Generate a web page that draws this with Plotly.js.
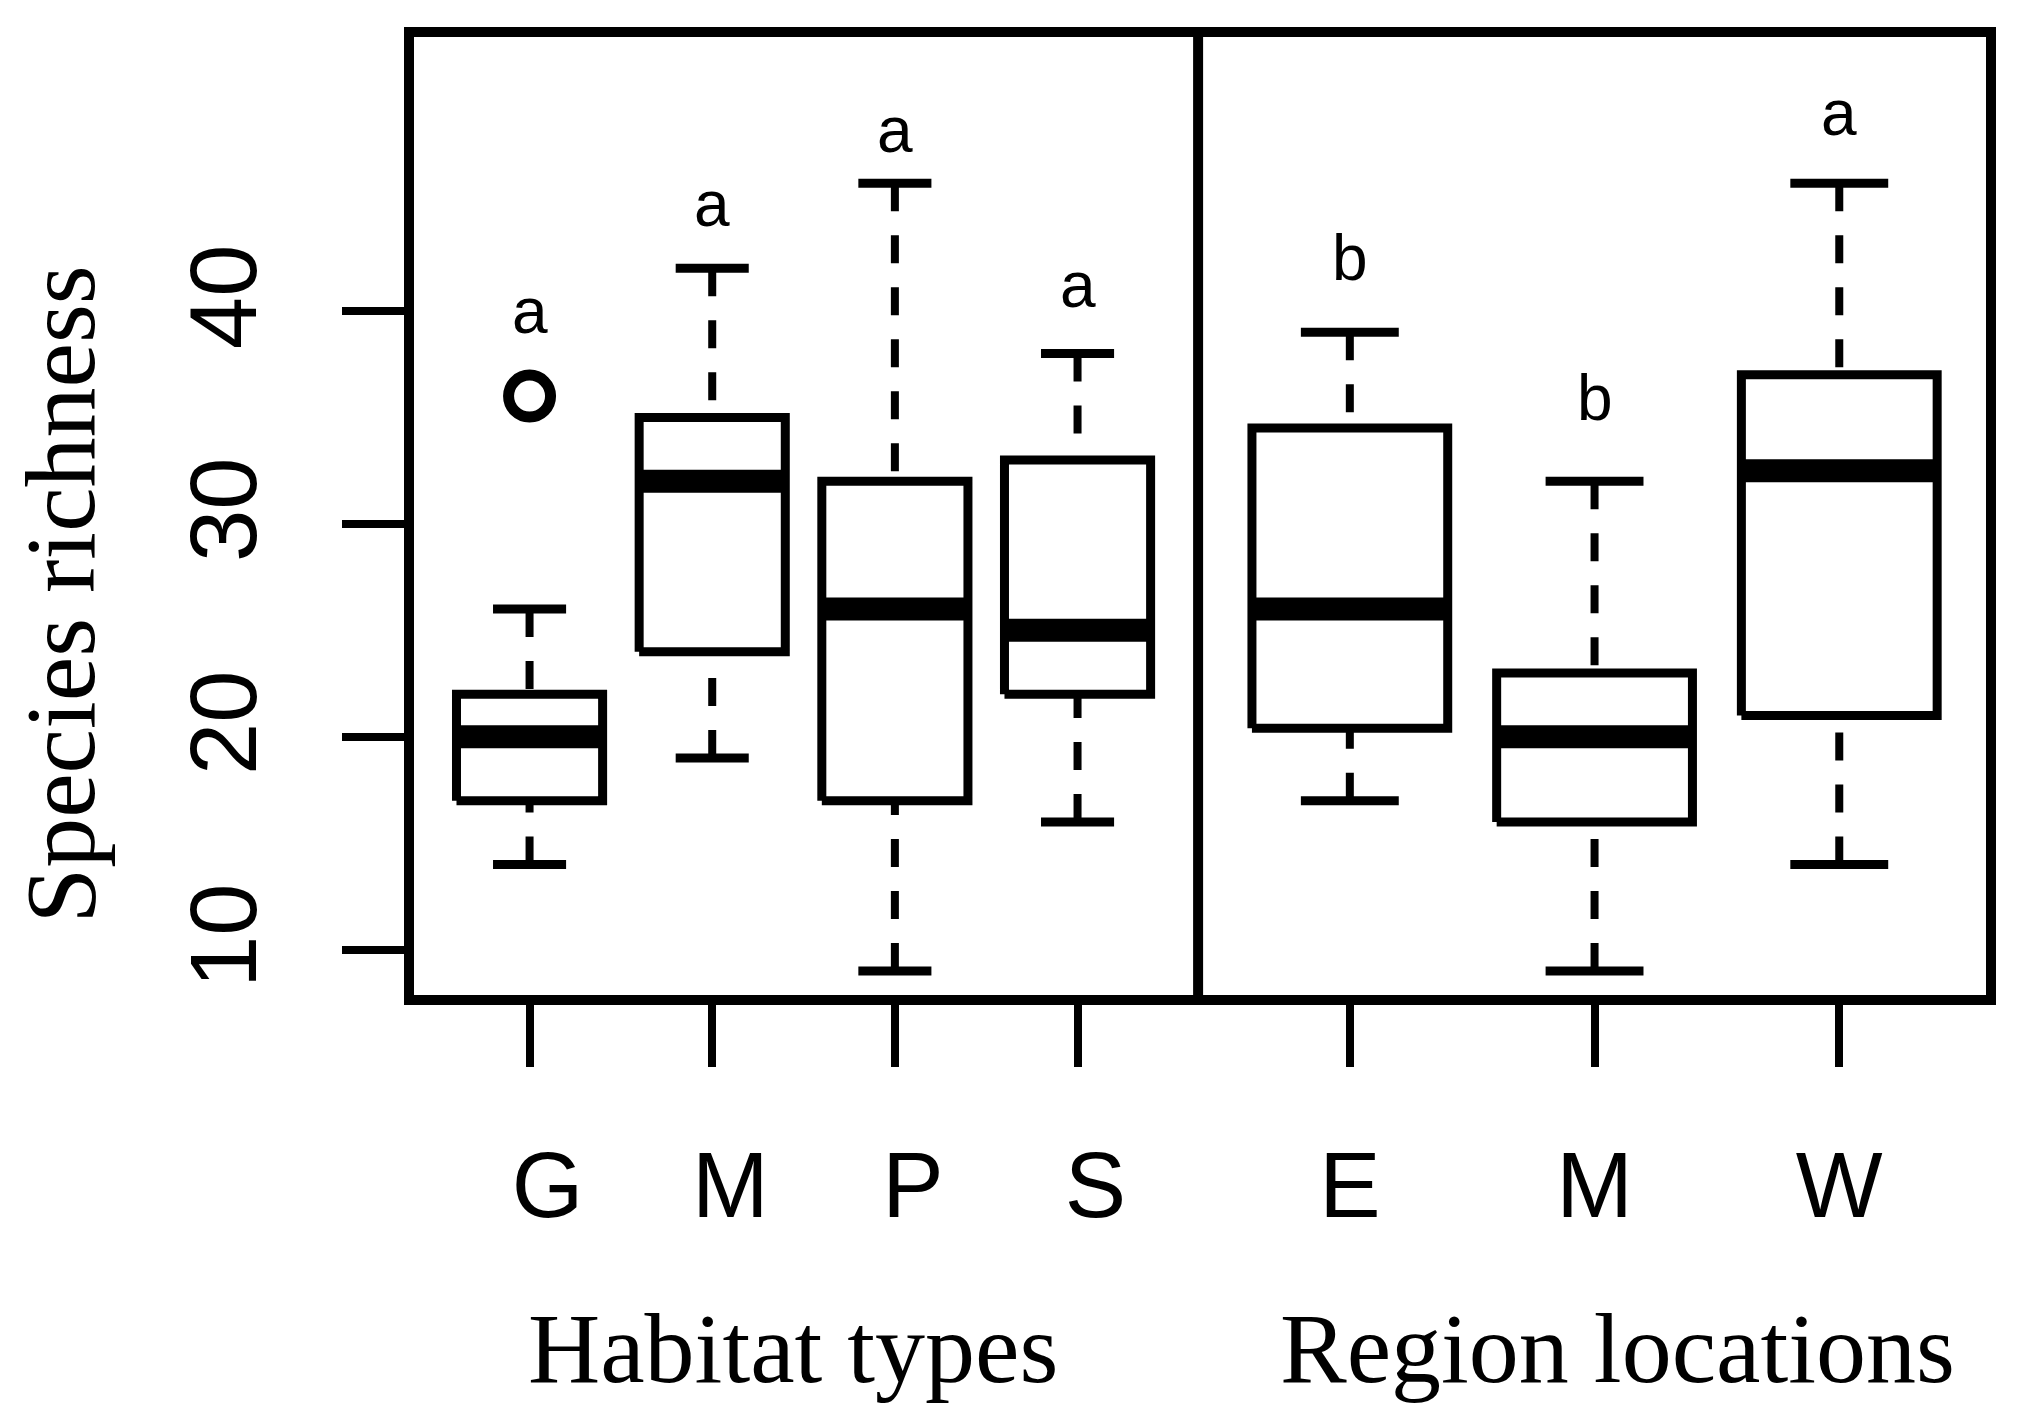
<!DOCTYPE html>
<html>
<head>
<meta charset="utf-8">
<script src="https://cdn.plot.ly/plotly-3.0.1.min.js"></script>
<style>
  body { margin: 0; background: #fff; }
  #myPlot { width: 2018px; height: 1423px; }
</style>
</head>
<body>
<div id="myPlot"></div>
<script>
// habitat panel (left)
var habitatCats = ['G', 'M', 'P', 'S'];
var habitatLow = [14, 19, 9, 16];
var habitatQ1 = [17, 24, 17, 22];
var habitatMed = [20, 32, 26, 25];
var habitatQ3 = [22, 35, 32, 33];
var habitatHigh = [26, 42, 46, 38];
var habitatOutX = ['G'];
var habitatOutY = [36];
var habitatLetters = ['a', 'a', 'a', 'a'];
var habitatLetterY = [40, 45, 48.5, 41.2];

// region panel (right)
var regionCats = ['E', 'M', 'W'];
var regionLow = [17, 9, 14];
var regionQ1 = [20.4, 16, 21];
var regionMed = [26, 20, 32.5];
var regionQ3 = [34.5, 23, 37];
var regionHigh = [39, 32, 46];
var regionLetters = ['b', 'b', 'a'];
var regionLetterY = [42.5, 35.9, 49.3];

var yTicks = [10, 20, 30, 40];

var BOX_HALF = 0.4, CAP_HALF = 0.2;

function panelTraces(cats, low, q1, med, q3, high, xa){
	var bx = [], by = [], mx = [], my = [], wx = [], wy = [], sx = [], sy = [];
	cats.forEach(function(c, i){
		var p = i + 1;
		bx.push(p - BOX_HALF, p + BOX_HALF, p + BOX_HALF, p - BOX_HALF, p - BOX_HALF, null);
		by.push(q1[i], q1[i], q3[i], q3[i], q1[i], null);
		mx.push(p - BOX_HALF, p + BOX_HALF, null);
		my.push(med[i], med[i], null);
		wx.push(p, p, null, p, p, null);
		wy.push(high[i], q3[i], null, low[i], q1[i], null);
		sx.push(p - CAP_HALF, p + CAP_HALF, null, p - CAP_HALF, p + CAP_HALF, null);
		sy.push(high[i], high[i], null, low[i], low[i], null);
	});
	var base = {type: 'scatter', mode: 'lines', xaxis: xa, yaxis: 'y', hoverinfo: 'skip', showlegend: false};
	return [
		Object.assign({}, base, {x: wx, y: wy, line: {color: '#000', width: 8, dash: '28px,24px'}}),
		Object.assign({}, base, {x: sx, y: sy, line: {color: '#000', width: 9}}),
		Object.assign({}, base, {x: bx, y: by, line: {color: '#000', width: 9}}),
		Object.assign({}, base, {x: mx, y: my, line: {color: '#000', width: 23}})
	];
}

var data = [].concat(
	panelTraces(habitatCats, habitatLow, habitatQ1, habitatMed, habitatQ3, habitatHigh, 'x'),
	panelTraces(regionCats, regionLow, regionQ1, regionMed, regionQ3, regionHigh, 'x2')
);
// outlier
data.push({
	type: 'scatter', mode: 'markers', xaxis: 'x', yaxis: 'y', showlegend: false, hoverinfo: 'skip',
	x: habitatOutX.map(function(c){ return habitatCats.indexOf(c) + 1; }),
	y: habitatOutY,
	marker: {symbol: 'circle-open', size: 42, color: '#000', line: {width: 11, color: '#000'}}
});

var annotations = [];
var letterFont = {family: 'Liberation Sans', size: 64, color: '#000'};
habitatLetters.forEach(function(t, i){
	annotations.push({xref: 'x', yref: 'y', x: i + 1, y: habitatLetterY[i], text: t, showarrow: false,
		xanchor: 'center', yanchor: 'middle', font: letterFont});
});
regionLetters.forEach(function(t, i){
	annotations.push({xref: 'x2', yref: 'y', x: i + 1, y: regionLetterY[i], text: t, showarrow: false,
		xanchor: 'center', yanchor: 'middle', font: letterFont});
});
var serif = {family: 'Liberation Serif', size: 100, color: '#000'};
annotations.push({xref: 'paper', yref: 'paper', x: 0.2427, y: -0.3605, text: 'Habitat types', showarrow: false,
	xanchor: 'center', yanchor: 'middle', font: serif});
annotations.push({xref: 'paper', yref: 'paper', x: 0.764, y: -0.3605, text: 'Region locations', showarrow: false,
	xanchor: 'center', yanchor: 'middle', font: serif});
annotations.push({xref: 'paper', yref: 'paper', x: -0.2206, y: 0.419, text: 'Species richness', showarrow: false,
	xanchor: 'center', yanchor: 'middle', textangle: -90, font: serif});

var xCommon = {
	showgrid: false, zeroline: false, showline: false,
	ticks: 'outside', ticklen: 66, tickwidth: 8, tickcolor: '#000',
	tickfont: {family: 'Liberation Sans', size: 92, color: '#000'},
	ticklabelstandoff: 40, fixedrange: true
};

var layout = {
	width: 2018, height: 1423,
	margin: {l: 409, r: 27, t: 32, b: 423},
	paper_bgcolor: '#fff', plot_bgcolor: '#fff',
	xaxis: Object.assign({}, xCommon, {domain: [0, 0.4988], range: [0.34, 4.66],
		tickvals: [1, 2, 3, 4], ticktext: habitatCats, ticklabelshift: 18, anchor: 'y'}),
	xaxis2: Object.assign({}, xCommon, {domain: [0.4988, 1], range: [0.38, 3.62],
		tickvals: [1, 2, 3], ticktext: regionCats, anchor: 'y'}),
	yaxis: {
		range: [7.64, 53.1], showgrid: false, zeroline: false, showline: false,
		tickvals: yTicks, ticks: 'outside', ticklen: 66, tickwidth: 8, tickcolor: '#000',
		tickangle: -90, tickfont: {family: 'Liberation Sans', size: 94, color: '#000'},
		ticklabelstandoff: 48, fixedrange: true
	},
	annotations: annotations,
	shapes: [
		{type: 'rect', xref: 'paper', yref: 'paper', x0: 0, x1: 1, y0: 0, y1: 1, line: {color: '#000', width: 10}},
		{type: 'line', xref: 'paper', yref: 'paper', x0: 0.4988, x1: 0.4988, y0: 0, y1: 1, line: {color: '#000', width: 10}}
	]
};

Plotly.newPlot('myPlot', data, layout, {staticPlot: true});
</script>
</body>
</html>
